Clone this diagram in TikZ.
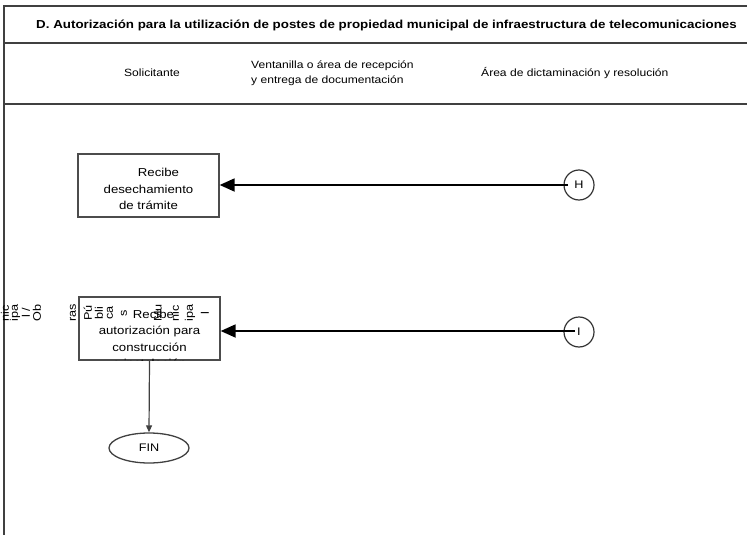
\documentclass[tikz,border=0pt]{standalone}
\usepackage{fontspec}
\setmainfont{Liberation Sans}[FakeStretch=1.15]
\usetikzlibrary{shapes.geometric,arrows.meta}
\tikzset{
  frame/.style={draw=black!75, line width=1.4pt},
  procbox/.style={draw=black!70, line width=1.3pt, rectangle, minimum width=141pt, minimum height=63pt, inner sep=0pt},
  conn/.style={draw=black!80, line width=1.2pt, circle, minimum size=30pt, inner sep=0pt, font=\fontsize{11}{12}\selectfont},
  bigarrow/.style={line width=1.8pt, -{Triangle[length=15pt,width=13pt]}},
  smallarrow/.style={draw=black!75, line width=1.2pt, -{Triangle[length=7pt,width=6pt]}},
  body/.style={font=\fontsize{11.5}{16.5}\selectfont, align=center, inner sep=0pt},
  hdr/.style={font=\fontsize{10.5}{15}\selectfont, inner sep=0pt},
  vtxt/.style={font=\fontsize{11}{12}\selectfont, rotate=90, inner sep=0pt},
}
\begin{document}
\begin{tikzpicture}[x=1pt,y=-1pt]
\useasboundingbox (0,0) rectangle (747,535);
% frame
\coordinate (tl) at (4,6);
\coordinate (tr) at (747,6);
\coordinate (bl) at (4,535);
\draw[frame] (tr) -- (tl) -- (bl);
\coordinate (l1) at (4,43);
\coordinate (r1) at (747,43);
\coordinate (l2) at (4,104);
\coordinate (r2) at (747,104);
\draw[frame] (l1) -- (r1);
\draw[frame] (l2) -- (r2);
% title and headers
\node[font=\bfseries\fontsize{11.6}{13}\selectfont, inner sep=0pt] (title) at (386.5,25) {D. Autorización para la utilización de postes de propiedad municipal de infraestructura de telecomunicaciones};
\node[hdr] (h1) at (152,73) {Solicitante};
\node[hdr, align=left, anchor=west] (h2) at (251,73) {Ventanilla o área de recepción\\y entrega de documentación};
\node[hdr, anchor=west] (h3) at (481,73) {Área de dictaminación y resolución};
% box 1
\node[procbox] (b1) at (148.5,185.5) {};
\node[body] (b1t) at (148.5,189) {\hspace*{20pt}Recibe\\desechamiento\\de trámite};
% box 2
\node[procbox] (b2) at (149.5,328.5) {};
\begin{scope}
\clip (b2.north west) rectangle (b2.south east);
\node[body] (b2t) at (149.5,339) {\hspace*{8pt}Recibe\\autorización para\\construcción\\o instalación};
\end{scope}
% vertical label fragments
\node[vtxt] (v1) at (5,313) {nic};
\node[vtxt] (v2) at (15,313) {ipa};
\node[vtxt] (v3) at (26,313) {l /};
\node[vtxt] (v4) at (37,313) {Ob};
\node[vtxt] (v5) at (73,313) {ras};
\node[vtxt] (v6) at (88,313) {Pú};
\node[vtxt] (v7) at (99,313) {bli};
\node[vtxt] (v8) at (110,313) {ca};
\node[vtxt] (v9) at (124,313) {s};
\node[vtxt] (v10) at (158,313) {Mu};
\node[vtxt] (v11) at (175,313) {nic};
\node[vtxt] (v12) at (190,313) {ipa};
\node[vtxt] (v13) at (205,313) {l};
% connectors
\node[conn] (H) at (579,185) {H};
\node[conn] (I) at (579,332) {I};
\coordinate (Hs) at (568,185);
\coordinate (Is) at (575,331);
\draw[bigarrow] (Hs) -- (b1.east |- Hs);
\draw[bigarrow] (Is) -- (b2.east |- Is);
% FIN
\node[ellipse, draw=black!75, line width=1.3pt, minimum width=80pt, minimum height=30pt, inner sep=0pt, font=\fontsize{11}{12}\selectfont] (fin) at (149,448) {FIN};
\draw[smallarrow] (b2.south) -- (fin.north);
\end{tikzpicture}
\end{document}
